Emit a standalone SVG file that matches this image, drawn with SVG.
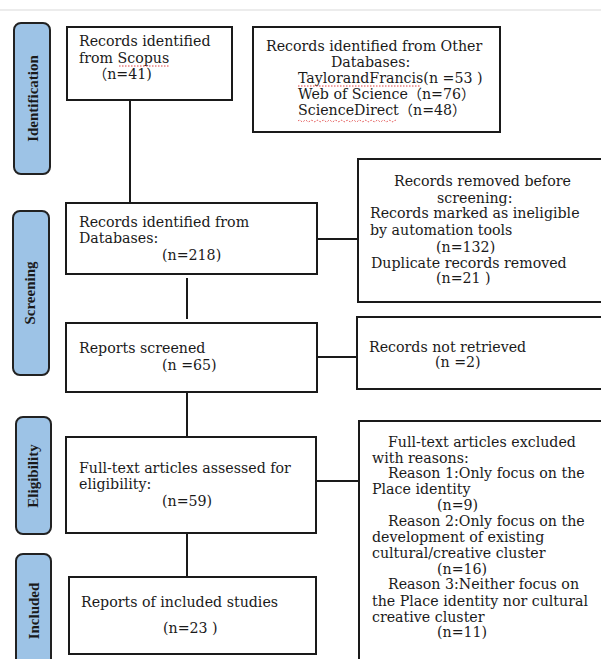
<svg xmlns="http://www.w3.org/2000/svg" width="601" height="659" viewBox="0 0 601 659">
<style>
.box{fill:#fff;stroke:#1a1a1a;stroke-width:2}
.lab{fill:#9dc3e6;stroke:#222;stroke-width:2}
.t{font-family:"DejaVu Serif","Noto Sans CJK SC",serif;font-size:14.2px;fill:#1a1a1a}
.lt{font-family:"Liberation Serif",serif;font-size:15px;font-weight:bold;fill:#1a1a1a;text-anchor:middle}
.c{stroke:#1a1a1a;stroke-width:2;fill:none}
.sp{stroke:#e04040;stroke-width:1;fill:none;stroke-dasharray:1.5 1.5}
</style>
<rect x="0" y="0" width="601" height="659" fill="#fff"/>
<line x1="0" y1="10" x2="601" y2="10" stroke="#ececec" stroke-width="2"/>
<g id="connectors">
<line class="c" x1="130" y1="100" x2="130" y2="203"/>
<line class="c" x1="187" y1="278" x2="187" y2="319"/>
<line class="c" x1="317" y1="239" x2="358" y2="239"/>
<line class="c" x1="187" y1="392" x2="187" y2="437"/>
<line class="c" x1="317" y1="357" x2="357" y2="357"/>
<line class="c" x1="187" y1="533" x2="187" y2="577"/>
<line class="c" x1="316" y1="481" x2="359" y2="481"/>
</g>
<g id="label-identification">
<rect class="lab" x="14" y="23" width="36" height="151" rx="7"/>
<text class="lt" transform="translate(37.5,98.5) rotate(-90)">Identification</text>
</g>
<g id="label-screening">
<rect class="lab" x="13" y="211" width="36" height="164" rx="7"/>
<text class="lt" transform="translate(35,293) rotate(-90)">Screening</text>
</g>
<g id="label-eligibility">
<rect class="lab" x="16" y="417" width="35" height="117" rx="7"/>
<text class="lt" transform="translate(38,476) rotate(-90)">Eligibility</text>
</g>
<g id="label-included">
<rect class="lab" x="16" y="554" width="35" height="120" rx="7"/>
<text class="lt" transform="translate(38.5,611) rotate(-90)">Included</text>
</g>
<g id="scopus">
<rect class="box" x="67" y="27" width="165" height="73"/>
<text class="t" x="79" y="46">Records identified</text>
<text class="t" x="79" y="63">from Scopus</text>
<text class="t" x="93" y="79">（n=41)</text>
<path class="sp" d="M119 66 H170"/>
</g>
<g id="other-databases">
<rect class="box" x="253" y="27" width="247" height="105"/>
<text class="t" x="266" y="51">Records identified from Other</text>
<text class="t" x="331" y="67">Databases:</text>
<text class="t" x="298" y="83">TaylorandFrancis(n =53 )</text>
<text class="t" x="298" y="99">Web of Science（n=76）</text>
<text class="t" x="298" y="115">ScienceDirect（n=48）</text>
<path class="sp" d="M298 86 H421"/>
<path class="sp" stroke-dasharray="none" d="M298 121 q1.5 -1.5 3 0 t3 0 t3 0 t3 0 t3 0 t3 0 t3 0 t3 0 t3 0 t3 0 t3 0 t3 0 t3 0 t3 0 t3 0 t3 0 t3 0 t3 0 t3 0 t3 0 t3 0 t3 0 t3 0 t3 0 t3 0 t3 0 t3 0 t3 0 t3 0 t3 0 t3 0 t3 0 t3 0"/>
</g>
<g id="records-databases">
<rect class="box" x="66" y="203" width="251" height="71"/>
<text class="t" x="79" y="227">Records identified from</text>
<text class="t" x="79" y="243">Databases:</text>
<text class="t" x="162" y="260">(n=218)</text>
</g>
<g id="records-removed">
<rect class="box" x="358" y="159" width="260" height="143"/>
<text class="t" x="394" y="186">Records removed before</text>
<text class="t" x="437" y="203">screening:</text>
<text class="t" x="370" y="218">Records marked as ineligible</text>
<text class="t" x="370" y="235">by automation tools</text>
<text class="t" x="436" y="252">(n=132)</text>
<text class="t" x="371" y="268">Duplicate records removed</text>
<text class="t" x="436" y="283">(n=21 )</text>
</g>
<g id="reports-screened">
<rect class="box" x="66" y="323" width="251" height="69"/>
<text class="t" x="79" y="353">Reports screened</text>
<text class="t" x="162" y="370">(n =65)</text>
</g>
<g id="not-retrieved">
<rect class="box" x="357" y="317" width="260" height="72"/>
<text class="t" x="369" y="352">Records not retrieved</text>
<text class="t" x="435" y="367">(n =2)</text>
</g>
<g id="full-text">
<rect class="box" x="66" y="437" width="250" height="96"/>
<text class="t" x="79" y="473">Full-text articles assessed for</text>
<text class="t" x="79" y="489">eligibility:</text>
<text class="t" x="162" y="506">(n=59)</text>
</g>
<g id="excluded">
<rect class="box" x="359" y="421" width="260" height="260"/>
<text class="t" x="388" y="447">Full-text articles excluded</text>
<text class="t" x="372" y="463">with reasons:</text>
<text class="t" x="388" y="478">Reason 1:Only focus on the</text>
<text class="t" x="372" y="494">Place identity</text>
<text class="t" x="437" y="510">(n=9)</text>
<text class="t" x="388" y="526">Reason 2:Only focus on the</text>
<text class="t" x="372" y="542">development of existing</text>
<text class="t" x="372" y="558">cultural/creative cluster</text>
<text class="t" x="437" y="574">(n=16)</text>
<text class="t" x="388" y="589">Reason 3:Neither focus on</text>
<text class="t" x="372" y="606">the Place identity nor cultural</text>
<text class="t" x="372" y="622">creative cluster</text>
<text class="t" x="437" y="637">(n=11)</text>
</g>
<g id="included">
<rect class="box" x="69" y="577" width="247" height="77"/>
<text class="t" x="81" y="607">Reports of included studies</text>
<text class="t" x="163" y="633">(n=23 )</text>
</g>
</svg>
